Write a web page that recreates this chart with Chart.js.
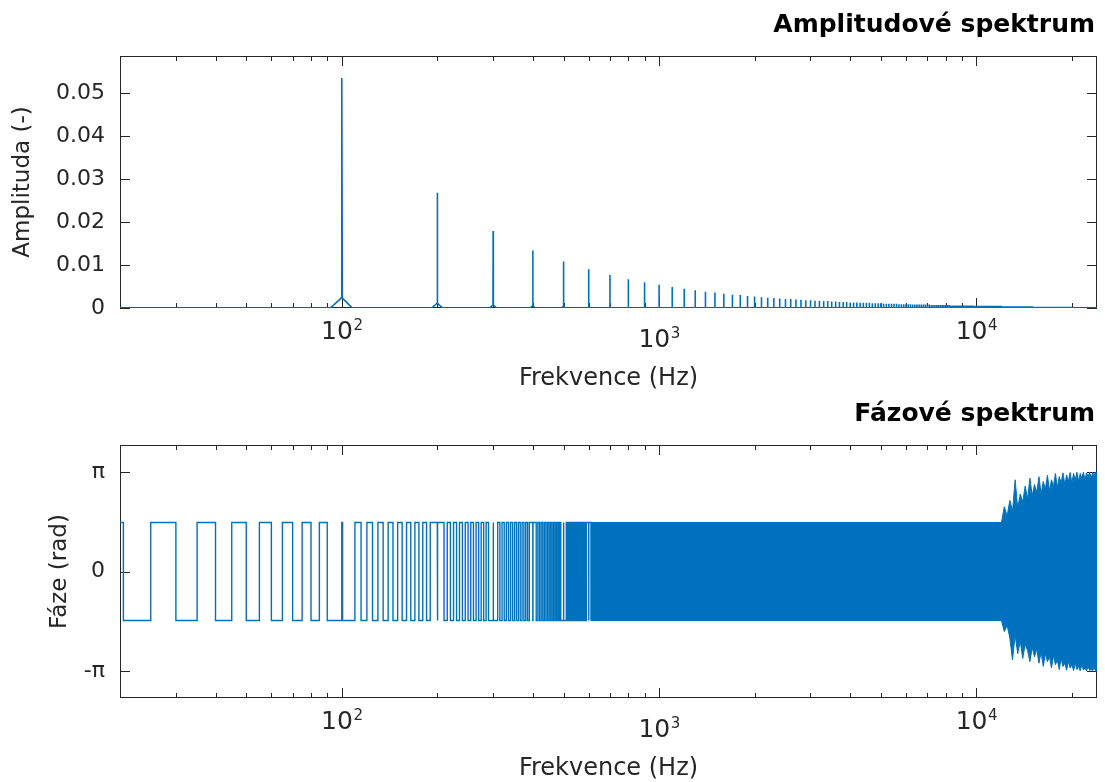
<!DOCTYPE html>
<html>
<head>
<meta charset="utf-8">
<script src="https://cdn.jsdelivr.net/npm/chart.js@4.4.1/dist/chart.umd.min.js"></script>
<style>
  html, body { margin: 0; padding: 0; background: #fff; }
  #page { position: relative; width: 1105px; height: 782px; }
  #page canvas { position: absolute; left: 0; }
  #ampChart { top: 0; }
  #phaseChart { top: 400px; }
</style>
</head>
<body>
<div id="page">
  <canvas id="ampChart" width="1105" height="400"></canvas>
  <canvas id="phaseChart" width="1105" height="382"></canvas>
</div>
<script>
// ---- data ----
var fundamentalHz = 100;
// peak height of each harmonic (100 Hz, 200 Hz, ...)
var harmonicAmp = [
  0.0535, 0.0268, 0.0179, 0.0134, 0.0108, 0.0090, 0.0077, 0.0067, 0.0060, 0.0054,
  0.0049, 0.0045, 0.0041, 0.0038, 0.0036, 0.0033, 0.0031, 0.0030, 0.0028, 0.0027,
  0.0025, 0.0024, 0.0023, 0.0022, 0.0021, 0.0021, 0.0020, 0.0019, 0.0018, 0.0018,
  0.0017, 0.0017, 0.0016, 0.0016, 0.0015, 0.0015, 0.0014, 0.0014, 0.0014, 0.0013,
  0.0013, 0.0013, 0.0012, 0.0012, 0.0012, 0.0012, 0.0011, 0.0011, 0.0011, 0.0011,
  0.0010, 0.0010, 0.0010, 0.0010, 0.0010, 0.0010, 0.0009, 0.0009, 0.0009, 0.0009,
  0.0009, 0.0009, 0.0008, 0.0008, 0.0008, 0.0008, 0.0008, 0.0008, 0.0008, 0.0008,
  0.0008, 0.0007, 0.0007, 0.0007, 0.0007, 0.0007, 0.0007, 0.0007, 0.0007, 0.0007,
  0.0007, 0.0007, 0.0006, 0.0006, 0.0006, 0.0006, 0.0006, 0.0006, 0.0006, 0.0006,
  0.0006, 0.0006, 0.0006, 0.0006, 0.0006, 0.0006, 0.0006, 0.0005, 0.0005, 0.0005,
  0.0005, 0.0005, 0.0005, 0.0005, 0.0005, 0.0005, 0.0005, 0.0005, 0.0005, 0.0005,
  0.0005, 0.0005, 0.0005, 0.0005, 0.0005, 0.0005, 0.0005, 0.0005, 0.0005, 0.0005,
  0.0004, 0.0004, 0.0004, 0.0004, 0.0004, 0.0004, 0.0004, 0.0004, 0.0004, 0.0004,
  0.0004, 0.0004, 0.0004, 0.0004, 0.0004, 0.0004, 0.0004, 0.0004, 0.0004, 0.0004,
  0.0004, 0.0004, 0.0004, 0.0004, 0.0004, 0.0004, 0.0004, 0.0004, 0.0004, 0.0004,
  0.0003, 0.0003, 0.0003, 0.0003, 0.0003, 0.0003, 0.0003, 0.0003, 0.0003, 0.0003,
  0.0003, 0.0003, 0.0003, 0.0003, 0.0003, 0.0003, 0.0003, 0.0003, 0.0003, 0.0003,
  0.0003, 0.0003, 0.0003, 0.0003, 0.0003, 0.0003, 0.0003, 0.0003, 0.0003, 0.0003,
  0.0003, 0.0003, 0.0003, 0.0003, 0.0003, 0.0003, 0.0003, 0.0003, 0.0003, 0.0003,
  0.0003, 0.0003, 0.0003, 0.0003, 0.0003, 0.0003, 0.0003, 0.0003, 0.0003, 0.0003
];
// leakage bump at the foot of the first harmonics
var harmonicFoot = [0.0023, 0.0011, 0.0007, 0.0005, 0.0004];
var footHalfWidthHz = 8;

var xTickHz = [20, 30, 40, 50, 60, 70, 80, 90, 100, 200, 300, 400, 500, 600, 700, 800, 900,
  1000, 2000, 3000, 4000, 5000, 6000, 7000, 8000, 9000, 10000, 20000];
var xLabelHz = [100, 1000, 10000];
var xLabelExp = ['2', '3', '4'];

var ampTicks = [0, 0.01, 0.02, 0.03, 0.04, 0.05];
var ampTickLabels = ['0', '0.01', '0.02', '0.03', '0.04', '0.05'];
var phaseTicks = [-Math.PI, 0, Math.PI];
var phaseTickLabels = ['-\u03c0', '0', '\u03c0'];

// phase square wave: level flips at each edge (starts high at 20 Hz)
var phaseHigh = 1.55, phaseLow = -1.55;
var phaseEdgeHz = [
  20.5, 25, 30, 35, 40, 45, 50, 55, 60, 65, 70, 75, 80, 85, 90,
  100, 100.6,
  110, 115, 120, 125, 130, 135, 140, 145, 150, 155, 160, 165, 170, 175, 180, 185,
  190, 200, 200.6, 210,
  215, 220, 225, 230, 235, 240, 245, 250, 255, 260, 265, 270, 275, 280, 285, 290,
  300, 300.6,
  310, 315, 320, 325, 330, 335, 340, 345, 350, 355, 360, 365, 370, 375, 380, 385,
  390, 400, 400.6, 410,
  415, 420, 425, 430, 435, 440, 445, 450, 455, 460, 465, 470, 475, 480, 485, 490,
  500, 500.6,
  510, 515, 520, 525, 530, 535, 540, 545, 550, 555, 560, 565, 570, 575, 580, 585,
  590, 600, 600.6, 610
];
// above ~600 Hz the switching is too dense to resolve: upper / lower envelope
var phaseBandHz = [610, 12000,
  12250, 12500, 12750, 13000, 13250, 13500, 13750, 14000, 14250, 14500, 14750, 15000,
  15250, 15500, 15750, 16000, 16250, 16500, 16750, 17000, 17250, 17500, 17750, 18000,
  18250, 18500, 18750, 19000, 19250, 19500, 19750, 20000, 20250, 20500, 20750, 21000,
  21250, 21500, 21750, 22000, 22250, 22500, 22750, 23000, 23250, 23500, 23750, 24000];
var phaseBandTop = [1.55, 1.55,
  2.05, 1.75, 2.25, 1.9, 2.9, 2.0, 2.45, 2.2, 2.7, 2.3, 2.95, 2.4,
  2.75, 2.5, 3.0, 2.45, 2.85, 2.6, 3.05, 2.55, 2.9, 2.7, 3.1, 2.65,
  3.0, 2.8, 3.12, 2.75, 3.05, 2.85, 3.13, 2.8, 3.1, 2.9, 3.14, 2.85,
  3.1, 2.95, 3.14, 2.9, 3.12, 3.0, 3.14, 2.95, 3.13, 3.05, 3.14, 3.1];
var phaseBandBottom = [-1.55, -1.55,
  -1.9, -1.7, -2.1, -2.8, -2.0, -2.6, -2.2, -2.75, -2.3, -2.5, -2.85, -2.4,
  -2.7, -2.45, -2.9, -2.55, -3.0, -2.6, -2.85, -2.7, -3.05, -2.65, -2.95, -2.8,
  -3.1, -2.75, -3.0, -2.9, -3.12, -2.85, -3.05, -2.95, -3.13, -2.9, -3.1, -3.0,
  -3.14, -2.95, -3.12, -3.05, -3.14, -3.0, -3.13, -3.1, -3.14, -3.05, -3.14, -3.12];

// ---- styling ----
var lineBlue = '#0072BD';
var axisColor = '#262626';
var fontFamily = '"DejaVu Sans", "Liberation Sans", sans-serif';

Chart.defaults.font.family = fontFamily;
Chart.defaults.color = axisColor;

// build point lists
var ampPoints = [{x: 20, y: 0}];
harmonicAmp.forEach(function (amp, i) {
    var f = (i + 1) * fundamentalHz;
    var foot = harmonicFoot[i] || 0;
    ampPoints.push({x: f - footHalfWidthHz, y: 0}, {x: f - 0.4, y: foot}, {x: f, y: amp},
                   {x: f + 0.4, y: foot}, {x: f + footHalfWidthHz, y: 0});
});
ampPoints.push({x: 24000, y: 0});

var phasePoints = [{x: 20, y: phaseHigh}];
var level = phaseHigh;
phaseEdgeHz.forEach(function (f, i) {
    phasePoints.push({x: f, y: level});
    level = (i % 2 === 0) ? phaseLow : phaseHigh;
    phasePoints.push({x: f, y: level});
});
var bandTopPoints = phaseBandHz.map(function (f, i) { return {x: f, y: phaseBandTop[i]}; });
var bandBottomPoints = phaseBandHz.map(function (f, i) { return {x: f, y: phaseBandBottom[i]}; });

// MATLAB-like box, inward ticks and text
var matlabAxes = {
    id: 'matlabAxes',
    beforeDatasetsDraw: function (chart, args, opts) {
        var a = chart.chartArea, ctx = chart.ctx;
        var xs = chart.scales.x, ys = chart.scales.y;
        ctx.save();
        ctx.strokeStyle = axisColor;
        ctx.lineWidth = 1;
        ctx.strokeRect(a.left + 0.5, a.top + 0.5, a.right - a.left - 1, a.bottom - a.top - 1);
        ctx.beginPath();
        xTickHz.forEach(function (v) {
            var px = Math.round(xs.getPixelForValue(v)) + 0.5;
            var len = xLabelHz.indexOf(v) >= 0 ? 10 : 5;
            ctx.moveTo(px, a.bottom); ctx.lineTo(px, a.bottom - len);
            ctx.moveTo(px, a.top); ctx.lineTo(px, a.top + len);
        });
        opts.yTicks.forEach(function (v) {
            var py = Math.round(ys.getPixelForValue(v)) + 0.5;
            ctx.moveTo(a.left, py); ctx.lineTo(a.left + 10, py);
            ctx.moveTo(a.right, py); ctx.lineTo(a.right - 10, py);
        });
        ctx.stroke();
        ctx.restore();
    },
    afterDraw: function (chart, args, opts) {
        var a = chart.chartArea, ctx = chart.ctx, xs = chart.scales.x;
        ctx.save();
        ctx.fillStyle = axisColor;
        ctx.textBaseline = 'alphabetic';
        ctx.textAlign = 'left';
        xLabelHz.forEach(function (v, i) {
            var px = xs.getPixelForValue(v);
            var base = a.bottom + 31 + (v === 1000 ? 8 : 0);
            ctx.font = '25px ' + fontFamily;
            var w1 = ctx.measureText('10').width;
            ctx.font = '15px ' + fontFamily;
            var w2 = ctx.measureText(xLabelExp[i]).width;
            var x0 = px - (w1 + w2) / 2;
            ctx.font = '25px ' + fontFamily;
            ctx.fillText('10', x0, base);
            ctx.font = '15px ' + fontFamily;
            ctx.fillText(xLabelExp[i], x0 + w1 + 0.5, base - 9);
        });
        ctx.font = '24px ' + fontFamily;
        ctx.textAlign = 'center';
        ctx.fillText('Frekvence (Hz)', (a.left + a.right) / 2, a.bottom + 77);

        ctx.save();
        ctx.translate(opts.yTitleX, (a.top + a.bottom) / 2);
        ctx.rotate(-Math.PI / 2);
        ctx.font = '23px ' + fontFamily;
        ctx.textBaseline = 'middle';
        ctx.fillText(opts.yTitle, 0, 0);
        ctx.restore();

        ctx.fillStyle = '#000';
        ctx.font = 'bold 25px ' + fontFamily;
        ctx.textAlign = 'right';
        ctx.fillText(opts.title, a.right - 2, a.top - 24);
        ctx.restore();
    }
};

function logX(height) {
    return {
        type: 'logarithmic', min: 20, max: 24000,
        grid: { display: false, drawTicks: false },
        border: { display: false },
        ticks: { display: false },
        afterBuildTicks: function (s) { s.ticks = xTickHz.map(function (v) { return {value: v}; }); },
        afterFit: function (s) { s.height = height; }
    };
}

function leftY(min, max, ticks, labels) {
    return {
        type: 'linear', min: min, max: max,
        grid: { display: false, drawTicks: false },
        border: { display: false },
        ticks: {
            padding: 15, color: axisColor, font: { size: 22 },
            callback: function (v, i) { return labels[i]; }
        },
        afterBuildTicks: function (s) { s.ticks = ticks.map(function (v) { return {value: v}; }); },
        afterFit: function (s) { s.width = 120; }
    };
}

// Amplitude spectrum
new Chart(document.getElementById('ampChart'), {
    type: 'line',
    data: {
        datasets: [{
            data: ampPoints,
            borderColor: lineBlue,
            borderWidth: 1.6,
            pointRadius: 0,
            fill: false,
            tension: 0
        }]
    },
    options: {
        responsive: false, animation: false, events: [], parsing: false,
        layout: { padding: { left: 0, right: 8, top: 56, bottom: 0 } },
        plugins: {
            legend: { display: false }, tooltip: { enabled: false },
            matlabAxes: { title: 'Amplitudov\u00e9 spektrum', yTitle: 'Amplituda (-)', yTitleX: 23, yTicks: ampTicks }
        },
        scales: { x: logX(92), y: leftY(0, 0.0586, ampTicks, ampTickLabels) }
    },
    plugins: [matlabAxes]
});

// Phase spectrum
new Chart(document.getElementById('phaseChart'), {
    type: 'line',
    data: {
        datasets: [{
            data: bandTopPoints,
            borderColor: lineBlue, backgroundColor: lineBlue,
            borderWidth: 1, pointRadius: 0, fill: '+1', tension: 0
        }, {
            data: bandBottomPoints,
            borderColor: lineBlue,
            borderWidth: 1, pointRadius: 0, fill: false, tension: 0
        }, {
            data: phasePoints,
            borderColor: lineBlue,
            borderWidth: 1.4, pointRadius: 0, fill: false, tension: 0
        }]
    },
    options: {
        responsive: false, animation: false, events: [], parsing: false,
        layout: { padding: { left: 0, right: 8, top: 45, bottom: 0 } },
        plugins: {
            legend: { display: false }, tooltip: { enabled: false },
            matlabAxes: { title: 'F\u00e1zov\u00e9 spektrum', yTitle: 'F\u00e1ze (rad)', yTitleX: 60, yTicks: phaseTicks }
        },
        scales: { x: logX(84), y: leftY(-4, 4, phaseTicks, phaseTickLabels) }
    },
    plugins: [matlabAxes]
});
</script>
</body>
</html>
